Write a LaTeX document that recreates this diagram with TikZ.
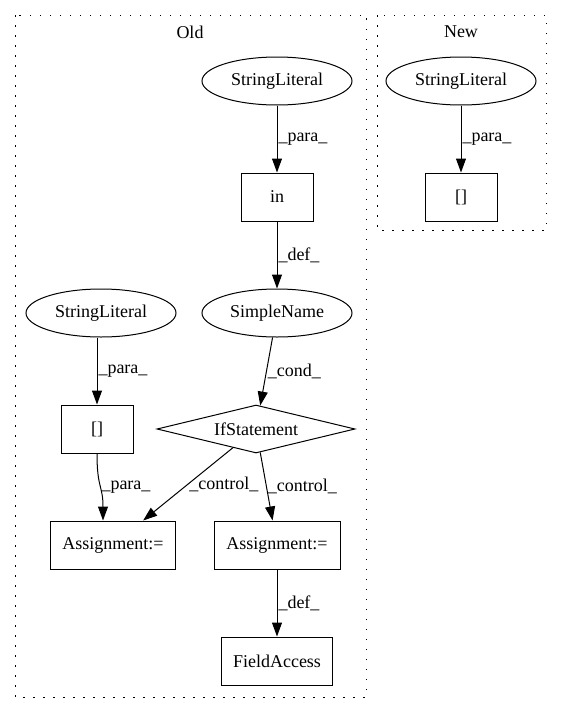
\documentclass[tikz,border=0pt]{standalone}
\usepackage{fontspec}
\setmainfont{Liberation Serif}
\usetikzlibrary{arrows.meta,shapes.geometric}

\begin{document}
\begin{tikzpicture}[x=1pt,y=-1pt,
    every node/.style={font=\fontsize{18}{20}\selectfont},
    lit/.style={ellipse,draw,line width=1pt,minimum width=150pt,minimum height=48pt,inner sep=0pt},
    op/.style={rectangle,draw,line width=1pt,minimum height=48pt,inner sep=0pt},
    cond/.style={diamond,draw,line width=1pt,shape aspect=4.125,minimum width=198pt,minimum height=48pt,inner sep=0pt},
    edge/.style={line width=1pt,-{Triangle[length=14pt,width=10pt]}},
    lbl/.style={anchor=west,inner sep=1pt},
    cluster/.style={line width=1pt,dash pattern=on 1.5pt off 8.5pt}]
      \useasboundingbox (0,0) rectangle (563,712);
      \draw[cluster] (15,15) rectangle (366,697);
      \draw[cluster] (377,15) rectangle (546,230);
      \node (oldlbl) at (190,32) {Old};
      \node (newlbl) at (461,32) {New};
      \node[lit] (strA) at (277,81) {StringLiteral};
      \node[op,minimum width=72pt] (inop) at (277,197) {in};
      \node[lit] (sname) at (277,313) {SimpleName};
      \node[lit] (strB) at (101,313) {StringLiteral};
      \node[op,minimum width=72pt] (idxA) at (97,429) {[]};
      \node[cond] (ifst) at (256,429) {IfStatement};
      \node[op,minimum width=125pt] (asgA) at (113,545) {Assignment:=};
      \node[op,minimum width=126pt] (asgB) at (277,545) {Assignment:=};
      \node[op,minimum width=111pt] (fld) at (277,661) {FieldAccess};
      \node[lit] (strC) at (461,81) {StringLiteral};
      \node[op,minimum width=72pt] (idxB) at (461,197) {[]};
      \draw[edge] (strA) -- node[lbl] {\_para\_} (inop);
      \draw[edge] (inop) -- node[lbl] {\_def\_} (sname);
      \draw[edge] (sname) -- node[lbl] {\_cond\_} (ifst);
      \draw[edge] (strB.south -| idxA) -- node[lbl] {\_para\_} (idxA);
      \draw[edge] (idxA.south) .. controls +(0,35) and +(0,-35) .. ([xshift=-10pt]asgA.north)
        node[lbl,pos=0.5] {\_para\_};
      \draw[edge] (ifst) -- node[lbl] {\_control\_} (asgA);
      \draw[edge] (ifst) -- node[lbl] {\_control\_} (asgB);
      \draw[edge] (asgB) -- node[lbl] {\_def\_} (fld);
      \draw[edge] (strC) -- node[lbl] {\_para\_} (idxB);
    \end{tikzpicture}
\end{document}
